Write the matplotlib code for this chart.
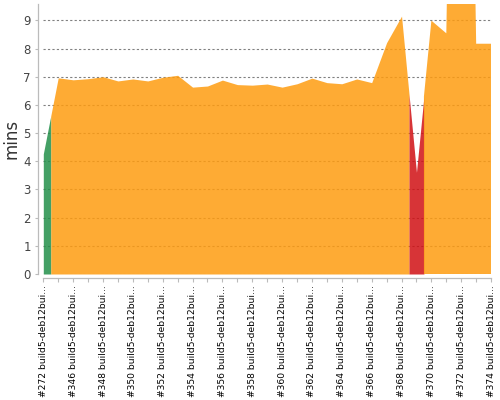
import numpy as np
import matplotlib
matplotlib.use("Agg")
import matplotlib.pyplot as plt

builds = [272] + list(range(345, 375))
durations = [4.26, 6.96, 6.89, 6.93, 7.00, 6.85, 6.92, 6.85, 6.98, 7.05,
             6.63, 6.67, 6.88, 6.72, 6.70, 6.74, 6.63, 6.75, 6.95, 6.79,
             6.75, 6.92, 6.79, 8.21, 9.15, 3.61, 8.99, 8.54, 40.0, 8.17, 8.17]
status = ["success"] + ["unstable"] * 24 + ["failure"] + ["unstable"] * 5
labels = ["#%d build5-deb12bui..." % b for b in builds]

colors = {"success": "#23904a", "unstable": "#fe9c10", "failure": "#d11014"}

fig = plt.figure(figsize=(5, 4), dpi=100)
ax = fig.add_axes([43.3 / 500, 1 - 274 / 400, (491.1 - 43.3) / 500, 270 / 400])

n = len(builds)
idx = np.arange(n)
T = np.array(durations)

runs = []
start = 0
for i in range(1, n + 1):
    if i == n or status[i] != status[start]:
        runs.append((start, i - 1, status[start]))
        start = i
for a, b, st in runs:
    x0 = max(a - 0.5, 0)
    x1 = min(b + 0.5, n - 1)
    xs = np.concatenate([[x0], idx[(idx > x0) & (idx < x1)], [x1]]).astype(float)
    ys = np.interp(xs, idx, T)
    ax.fill_between(xs, 0, ys, color=colors[st], alpha=0.85, linewidth=0, zorder=2)

ax.set_xlim(0, n - 1)
ax.set_ylim(0, 9.58)
ax.set_yticks(range(0, 10))
ax.yaxis.grid(True, color="#808080", linestyle=(0, (2, 2)), linewidth=0.8, zorder=1)
ax.set_axisbelow(True)

for s in ["top", "right"]:
    ax.spines[s].set_visible(False)
ax.spines["left"].set_position(("outward", 4))
ax.spines["bottom"].set_position(("outward", 3))
for s in ["left", "bottom"]:
    ax.spines[s].set_color("#bbbbbb")
    ax.spines[s].set_linewidth(0.9)

ax.tick_params(axis="y", length=2, color="#bbbbbb", labelsize=8.5, labelcolor="#444444", pad=3)
ax.tick_params(axis="x", length=3, color="#bbbbbb", pad=2, labelrotation=90, labelsize=6.6)

ax.set_xticks(idx)
ax.set_xticklabels([labels[i] if i % 2 == 0 else "" for i in range(n)])
for t in ax.get_xticklabels():
    t.set_rotation(90)
    t.set_va("top")
    t.set_ha("center")
    t.set_fontsize(6.6)
    t.set_color("black")

fig.text(12 / 500, 1 - 139 / 400, "mins", rotation=90, fontsize=12, color="#333333",
         ha="center", va="center")

fig.savefig("out.png", dpi=100)
